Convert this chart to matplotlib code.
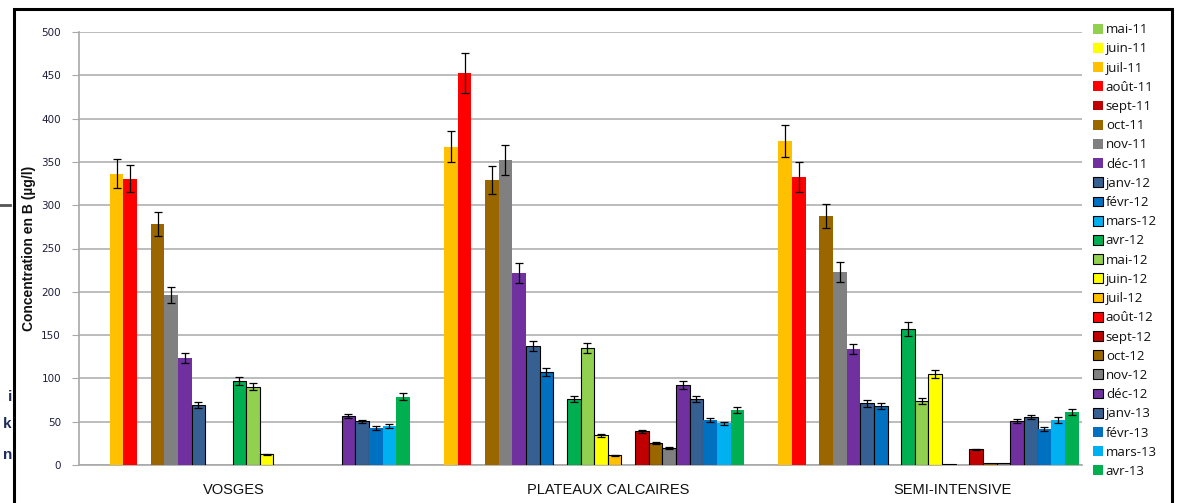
import numpy as np
import matplotlib as mpl
mpl.use('Agg')
import matplotlib.pyplot as plt
from matplotlib.patches import Rectangle

nan = np.nan

# categories / series
groups = ['VOSGES', 'PLATEAUX CALCAIRES', 'SEMI-INTENSIVE']
months = ['mai-11', 'juin-11', 'juil-11', 'août-11', 'sept-11', 'oct-11', 'nov-11', 'déc-11',
          'janv-12', 'févr-12', 'mars-12', 'avr-12', 'mai-12', 'juin-12', 'juil-12', 'août-12',
          'sept-12', 'oct-12', 'nov-12', 'déc-12', 'janv-13', 'févr-13', 'mars-13', 'avr-13']
colors = ['#92D050', '#FFFF00', '#FFC000', '#FF0000', '#C00000', '#996600', '#808080', '#7030A0',
          '#366092', '#0070C0', '#00B0F0', '#00B050', '#92D050', '#FFFF00', '#FFC000', '#FF0000',
          '#C00000', '#996600', '#808080', '#7030A0', '#366092', '#0070C0', '#00B0F0', '#00B050']
# which series have a black outline
outlined = [False]*8 + [True]*13 + [False]*3

vosges = [nan, nan, 336.5, 330.8, nan, 278.5, 196.2, 123.8,
          69.2, nan, nan, 97.3, 90.4, 12.3, nan, nan,
          nan, nan, nan, 56.5, 50.4, 42.7, 45.0, 78.8]
vosges_err = [0, 0, 17, 16, 0, 14, 9, 6,
              3.5, 0, 0, 4.5, 4, 0.5, 0, 0,
              0, 0, 0, 2.5, 2, 2.5, 2.5, 4]

plateaux = [nan, nan, 367.7, 452.7, nan, 329.2, 352.3, 221.5,
            137.3, 107.3, nan, 76.2, 135.0, 34.2, 11.2, nan,
            38.8, 25.4, 19.6, 92.3, 76.2, 51.9, 48.1, 63.5]
plateaux_err = [0, 0, 18, 23, 0, 16, 17.5, 11.5,
                6, 5, 0, 4, 6, 1.5, 0.5, 0,
                1.5, 1, 1, 5, 4, 2, 2, 3.5]

semi = [nan, nan, 374.6, 332.7, nan, 287.7, 222.7, 134.2,
        71.5, 68.0, nan, 157.3, 73.8, 105.0, 1.0, nan,
        18.0, 2.0, 2.0, 50.8, 55.4, 41.9, 51.9, 61.2]
semi_err = [0, 0, 18.5, 17, 0, 14, 11.5, 6,
            4, 3.5, 0, 8, 3, 5, 0, 0,
            1, 0, 0, 2.5, 2, 2.5, 3, 3]

values = np.array([vosges, plateaux, semi])
errors = np.array([vosges_err, plateaux_err, semi_err])
label_pos = [0.464, 1.582, 2.614]

fig = plt.figure(figsize=(11.8, 5.03), dpi=100)
ax = fig.add_axes([79/1180, 1-465/503, (1082-79)/1180, (465-32)/503])

n = len(months)
w = 0.0408
x0 = np.arange(len(groups)) + 0.5
for j in range(n):
    xs = x0 + (j - (n-1)/2.0)*w
    vals = values[:, j]
    errs = np.where(np.isnan(vals), 0, errors[:, j])
    ax.bar(xs, vals, width=w, color=colors[j],
           edgecolor='black' if outlined[j] else colors[j],
           linewidth=0.8 if outlined[j] else 0, label=months[j], zorder=3)
    ok = ~np.isnan(vals) & (errs > 0)
    if ok.any():
        ax.errorbar(xs[ok], vals[ok], yerr=errs[ok], fmt='none', ecolor='black',
                    elinewidth=0.9, capsize=3, capthick=0.9, zorder=4)

ax.set_xlim(0, 3)
ax.set_ylim(0, 500)
ax.set_yticks(np.arange(0, 501, 50))
ax.yaxis.grid(True, color='#B0B0B0', linewidth=1.2, zorder=0)
ax.set_axisbelow(True)
for s in ['top', 'right']:
    ax.spines[s].set_visible(False)
ax.spines['left'].set_color('#A8A8A8')
ax.spines['bottom'].set_color('#A8A8A8')
ax.spines['left'].set_linewidth(1.2)
ax.spines['bottom'].set_linewidth(1.2)
ax.tick_params(axis='y', direction='out', length=5, color='#A8A8A8', labelsize=7.5,
               labelcolor='#1F1F3F', pad=8)
for t in ax.get_yticklabels():
    t.set_fontfamily('DejaVu Sans')
ax.set_xticks(label_pos)
ax.set_xticklabels(groups, fontsize=10.5, fontfamily='Liberation Sans', color='#111111')
ax.tick_params(axis='x', length=0, pad=13)
ax.set_ylabel('Concentration en B (µg/l)', fontsize=10, fontfamily='Liberation Sans',
              fontweight='bold', color='#111111', labelpad=4)

handles, labels = ax.get_legend_handles_labels()
leg = fig.legend(handles, labels, loc='upper left', bbox_to_anchor=(1088/1180, 1-18/503),
                 frameon=False, handlelength=0.75, handleheight=0.75,
                 handletextpad=0.2, labelspacing=0.47, borderaxespad=0,
                 prop={'family': 'Open Sans', 'size': 9.5})
for txt in leg.get_texts():
    txt.set_color('#111111')

# outer frame of the chart object
fig.patches.append(Rectangle((14/1180, -0.05), (1172-14)/1180, 1.05-9/503,
                             transform=fig.transFigure, fill=False, edgecolor='black',
                             linewidth=2.2, zorder=10))
# fragments of the surrounding page, left of the frame
fig.lines.append(plt.Line2D([0, 10/1180], [1-205/503, 1-205/503], transform=fig.transFigure,
                            color='#555555', linewidth=2))
for yy, s in [(397, 'i'), (424, 'k'), (455, 'n')]:
    fig.text(12/1180, 1-yy/503, s, ha='right', va='center', fontsize=11, fontweight='bold',
             color='#1F2D5A', fontfamily='Liberation Sans')

plt.savefig('out.png', dpi=100)
